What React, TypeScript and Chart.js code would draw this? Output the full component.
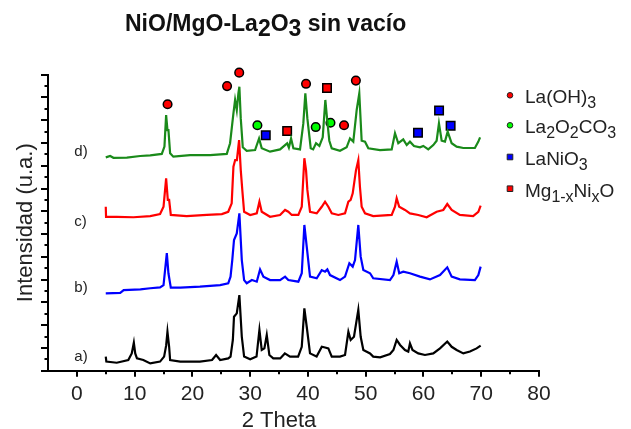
import { useEffect, useRef } from 'react';
import { Chart, registerables } from 'chart.js';

Chart.register(...registerables);

const FONT = '"Liberation Sans", Arial, Helvetica, sans-serif';

const chartTitle = 'NiO/MgO-La{2}O{3} sin vacío';
const xAxisTitle = '2 Theta';
const yAxisTitle = 'Intensidad (u.a.)';
const xTickValues = [0, 10, 20, 30, 40, 50, 60, 70, 80];
const xMinorTicks = [5, 15, 25, 35, 45, 55, 65, 75];
const yMinorTicks = [0.5, 1.5, 2.5, 3.5, 4.5, 5.5, 6.5, 7.5, 8.5, 9.5, 10.5, 11.5, 12.5];

const sampleNames = ['a)', 'b)', 'c)', 'd)'];
const sampleColors = ['#000000', '#0000ff', '#ff0000', '#1a8a1a'];
const sampleLabelTheta = [-0.45, -0.45, -0.45, -0.45];
const sampleLabelLevel = [0.6, 3.63, 6.53, 9.6];

// (2θ, intensity) pairs
const patternA: [number, number][] = [
  [5.0, 0.62], [5.1, 0.4], [6.9, 0.35], [8.9, 0.47], [9.5, 0.76], [9.86, 1.23], [10.1, 0.76], [10.4, 0.54],
  [11.5, 0.47], [12.7, 0.32], [14.4, 0.4], [15.1, 0.62], [15.45, 1.1], [15.68, 1.71], [15.97, 1.05], [16.14, 0.47],
  [17.9, 0.4], [21.3, 0.4], [23.4, 0.47], [24.1, 0.69], [24.8, 0.47], [26.2, 0.54], [26.6, 0.62], [27.0, 1.35],
  [27.2, 2.37], [27.68, 2.52], [28.13, 3.32], [28.55, 1.49], [28.95, 0.62], [30.0, 0.5], [31.1, 0.62], [31.6, 1.79],
  [32.0, 0.91], [32.46, 0.98], [32.87, 1.57], [33.32, 0.69], [34.0, 0.54], [35.2, 0.54], [36.0, 0.76], [36.9, 0.62],
  [38.3, 0.62], [38.93, 1.05], [39.38, 2.74], [39.79, 1.93], [40.36, 0.76], [41.5, 0.62], [42.4, 1.05], [42.96, 1.02],
  [43.53, 0.98], [44.12, 0.62], [45.55, 0.62], [46.42, 0.69], [47.0, 1.71], [47.4, 1.35], [47.97, 1.49], [48.72, 2.67],
  [49.13, 1.49], [49.59, 0.91], [50.75, 0.76], [51.3, 0.62], [52.5, 0.59], [54.2, 0.73], [54.8, 0.91], [55.36, 1.35],
  [55.95, 1.13], [56.8, 0.91], [57.37, 0.84], [57.66, 1.2], [58.1, 0.91], [59.1, 0.76], [60.26, 0.69], [61.7, 0.76],
  [62.86, 0.98], [64.12, 1.28], [64.88, 1.05], [65.74, 0.91], [66.9, 0.76], [68.05, 0.84], [69.2, 0.98], [69.9, 1.1],
];

const patternB: [number, number][] = [
  [5.0, 3.4], [7.5, 3.42], [8.1, 3.54], [11.0, 3.57], [12.7, 3.62], [14.4, 3.66], [15.0, 3.76], [15.57, 5.16],
  [15.85, 4.28], [16.26, 3.65], [17.9, 3.65], [21.3, 3.69], [24.8, 3.76], [26.2, 3.84], [26.6, 4.13], [26.9, 4.86],
  [27.2, 5.74], [27.68, 6.03], [28.13, 6.91], [28.55, 4.86], [28.95, 3.98], [29.4, 3.84], [30.3, 3.98], [31.14, 3.91],
  [31.71, 4.45], [32.29, 4.13], [33.44, 3.98], [35.17, 3.98], [36.04, 4.13], [36.6, 3.98], [38.34, 3.91], [38.93, 4.28],
  [39.38, 6.4], [39.79, 5.45], [40.36, 4.13], [41.52, 4.06], [42.39, 4.42], [42.96, 4.35], [43.36, 4.45], [43.82, 4.2],
  [45.55, 3.98], [46.42, 4.13], [47.17, 4.72], [47.75, 4.57], [48.15, 4.86], [48.72, 6.4], [49.13, 5.01], [49.59, 4.42],
  [50.75, 4.28], [51.3, 4.06], [54.2, 3.98], [54.8, 4.2], [55.36, 4.79], [55.8, 4.28], [56.5, 4.35], [57.66, 4.28],
  [59.4, 4.13], [61.12, 4.01], [62.86, 4.2], [64.12, 4.54], [64.88, 4.13], [66.3, 4.01], [68.9, 3.98], [69.5, 4.2],
  [69.9, 4.57],
];

const patternC: [number, number][] = [
  [5.0, 7.2], [5.05, 6.76], [6.9, 6.76], [9.8, 6.74], [12.7, 6.79], [14.4, 6.88], [15.0, 7.2], [15.45, 8.45],
  [15.74, 7.5], [15.97, 7.5], [16.26, 6.84], [19.0, 6.79], [22.5, 6.84], [25.1, 6.88], [26.2, 6.98], [26.8, 7.35],
  [27.1, 8.96], [27.4, 9.25], [27.7, 9.25], [28.08, 10.13], [28.37, 8.81], [28.66, 7.86], [28.95, 6.98], [30.0, 6.84],
  [31.14, 6.91], [31.6, 7.42], [32.0, 6.98], [33.44, 6.76], [35.17, 6.84], [36.04, 7.06], [36.6, 6.98], [37.2, 6.84],
  [38.34, 6.84], [38.93, 7.2], [39.38, 9.33], [39.67, 8.81], [39.9, 7.94], [40.36, 6.98], [41.52, 6.91], [42.39, 7.2],
  [42.96, 7.42], [43.53, 7.2], [44.12, 6.91], [45.26, 6.84], [46.42, 6.91], [47.0, 7.42], [47.4, 7.5], [47.75, 7.79],
  [48.32, 8.81], [48.72, 9.25], [49.0, 8.08], [49.3, 7.2], [49.88, 6.91], [51.3, 6.79], [54.5, 6.84], [55.07, 7.2],
  [55.36, 7.57], [55.8, 7.2], [56.8, 7.06], [57.66, 6.91], [59.1, 6.84], [60.55, 6.74], [62.28, 6.98], [63.43, 7.06],
  [64.12, 7.32], [64.88, 7.06], [66.3, 6.84], [68.6, 6.79], [69.5, 6.98], [69.9, 7.25],
];

const patternD: [number, number][] = [
  [5.0, 9.37], [5.76, 9.43], [6.33, 9.35], [8.65, 9.36], [10.95, 9.43], [12.7, 9.46], [14.7, 9.52], [15.16, 9.84],
  [15.45, 11.23], [15.68, 10.57], [15.85, 10.57], [16.14, 9.55], [16.7, 9.4], [19.6, 9.47], [23.06, 9.47], [25.95, 9.52],
  [26.52, 9.99], [27.1, 11.3], [27.39, 11.89], [27.68, 11.45], [27.96, 12.18], [28.13, 12.47], [28.37, 11.08], [28.72, 9.81],
  [29.4, 9.66], [30.85, 9.69], [31.54, 10.2], [32.0, 9.77], [33.44, 9.62], [35.17, 9.72], [36.04, 9.91], [36.4, 9.99],
  [36.7, 9.8], [37.08, 10.2], [37.48, 9.77], [38.63, 9.72], [39.2, 10.86], [39.55, 12.18], [39.9, 11.08], [40.48, 9.77],
  [40.9, 9.72], [41.4, 9.99], [41.98, 9.87], [42.56, 10.25], [43.01, 11.89], [43.36, 10.94], [43.7, 10.1], [44.12, 9.77],
  [45.55, 9.66], [46.7, 9.81], [47.28, 10.2], [47.85, 10.06], [48.44, 11.45], [48.89, 12.18], [49.3, 10.1], [49.88, 10.06],
  [50.45, 9.77], [52.47, 9.69], [54.5, 9.72], [55.07, 10.43], [55.64, 9.99], [56.5, 10.16], [57.1, 9.91], [57.66, 10.06],
  [58.36, 9.87], [59.4, 9.81], [59.97, 9.87], [60.83, 9.72], [61.7, 9.91], [62.28, 10.1], [62.68, 10.86], [63.15, 10.1],
  [63.72, 10.06], [64.19, 10.5], [64.88, 9.99], [65.74, 9.84], [66.9, 9.78], [68.9, 9.78], [69.5, 10.06], [69.8, 10.25],
];

const phaseNames = ['La(OH){3}', 'La{2}O{2}CO{3}', 'LaNiO{3}', 'Mg{1-x}Ni{x}O'];
const phaseFill = ['#ff0000', '#00ff00', '#0000ff', '#ff0000'];
const phaseShape = ['circle', 'circle', 'rect', 'rect'];
const peaksLaOH3: [number, number][] = [[15.7, 11.7], [26.0, 12.5], [28.1, 13.09], [39.67, 12.6], [46.25, 10.78], [48.3, 12.74]];
const peaksLa2O2CO3: [number, number][] = [[31.25, 10.78], [41.35, 10.7], [43.9, 10.89]];
const peaksLaNiO3: [number, number][] = [[32.7, 10.34], [59.05, 10.45], [62.7, 11.43], [64.7, 10.76]];
const peaksMgNiO: [number, number][] = [[36.4, 10.53], [43.3, 12.42]];

const patterns = [patternA, patternB, patternC, patternD];
const phasePeaks = [peaksLaOH3, peaksLa2O2CO3, peaksLaNiO3, peaksMgNiO];

function parseRich(s: string) {
  const parts: { t: string; sub: boolean }[] = [];
  const re = /\{([^}]*)\}/g;
  let last = 0;
  let m: RegExpExecArray | null;
  while ((m = re.exec(s))) {
    if (m.index > last) parts.push({ t: s.slice(last, m.index), sub: false });
    parts.push({ t: m[1], sub: true });
    last = re.lastIndex;
  }
  if (last < s.length) parts.push({ t: s.slice(last), sub: false });
  return parts;
}

function drawRich(ctx: CanvasRenderingContext2D, s: string, x: number, y: number, size: number, subSize: number, drop: number, weight: string, color: string) {
  ctx.save();
  ctx.fillStyle = color;
  ctx.textAlign = 'left';
  ctx.textBaseline = 'alphabetic';
  let cx = x;
  for (const p of parseRich(s)) {
    const fs = p.sub ? subSize : size;
    ctx.font = `${weight} ${fs}px ${FONT}`;
    ctx.fillText(p.t, cx, y + (p.sub ? drop : 0));
    cx += ctx.measureText(p.t).width;
  }
  ctx.restore();
}

const overlayPlugin = {
  id: 'overlay',
  afterDraw(chart: any) {
    const ctx: CanvasRenderingContext2D = chart.ctx;
    const xs = chart.scales.x;
    const ys = chart.scales.y;
    ctx.save();
    ctx.strokeStyle = '#000';
    ctx.lineWidth = 2;
    ctx.beginPath();
    for (const v of xMinorTicks) {
      const px = Math.round(xs.getPixelForValue(v));
      ctx.moveTo(px, ys.bottom);
      ctx.lineTo(px, ys.bottom + 3.5);
    }
    for (const v of yMinorTicks) {
      const py = Math.round(ys.getPixelForValue(v));
      ctx.moveTo(xs.left, py);
      ctx.lineTo(xs.left - 3.5, py);
    }
    ctx.stroke();
    ctx.restore();

    // title
    drawRich(ctx, chartTitle, 125, 30.5, 23, 23, 5.5, 'bold', '#111');

    // legend
    const lx = 510;
    const tx = 525;
    const baselines = [103.3, 133.3, 165, 196.7];
    phaseNames.forEach((name, i) => {
      const by = baselines[i];
      const my = by - 8;
      ctx.save();
      ctx.fillStyle = phaseFill[i];
      ctx.strokeStyle = '#222';
      ctx.lineWidth = 1;
      ctx.beginPath();
      if (phaseShape[i] === 'circle') ctx.arc(lx, my, 2.8, 0, Math.PI * 2);
      else ctx.rect(lx - 2.8, my - 2.8, 5.6, 5.6);
      ctx.fill();
      ctx.stroke();
      ctx.restore();
      drawRich(ctx, name, tx, by, 19, 16, 5, 'normal', '#222');
    });

    // sample labels
    ctx.save();
    ctx.fillStyle = '#222';
    ctx.font = `15px ${FONT}`;
    ctx.textAlign = 'left';
    ctx.textBaseline = 'middle';
    sampleNames.forEach((n, i) => {
      ctx.fillText(n, xs.getPixelForValue(sampleLabelTheta[i]), ys.getPixelForValue(sampleLabelLevel[i]));
    });
    ctx.restore();

    // x title
    ctx.save();
    ctx.fillStyle = '#222';
    ctx.font = `22px ${FONT}`;
    ctx.textAlign = 'center';
    ctx.textBaseline = 'alphabetic';
    ctx.fillText(xAxisTitle, 279, 426.5);
    ctx.restore();
  },
};

export default function App() {
  const ref = useRef<HTMLCanvasElement>(null);
  useEffect(() => {
    const datasets: any[] = patterns.map((p, i) => ({
      label: sampleNames[i],
      data: p.map(([x, y]) => ({ x, y })),
      showLine: true,
      borderColor: sampleColors[i],
      borderWidth: 2.2,
      pointRadius: 0,
      fill: false,
      tension: 0,
    }));
    phasePeaks.forEach((pk, i) => {
      datasets.push({
        label: phaseNames[i],
        data: pk.map(([x, y]) => ({ x, y })),
        showLine: false,
        pointStyle: phaseShape[i],
        pointRadius: phaseShape[i] === 'circle' ? 4.3 : 6,
        backgroundColor: phaseFill[i],
        borderColor: '#000',
        borderWidth: 1.5,
        clip: false,
      });
    });
    const chart = new Chart(ref.current!, {
      type: 'scatter',
      data: { datasets },
      options: {
        responsive: false,
        animation: false,
        devicePixelRatio: 1,
        events: [],
        layout: { padding: { top: 74.7, right: 92, left: 0, bottom: 0 } },
        plugins: { legend: { display: false }, tooltip: { enabled: false }, title: { display: false } },
        scales: {
          x: {
            type: 'linear',
            min: -5,
            max: 80,
            afterBuildTicks: (scale: any) => {
              scale.ticks = xTickValues.map((v) => ({ value: v }));
            },
            afterFit: (scale: any) => {
              scale.height = 58.3;
            },
            grid: { drawOnChartArea: false, drawTicks: true, tickLength: 6, tickColor: '#000', lineWidth: 2 },
            border: { display: true, color: '#000', width: 2 },
            ticks: { color: '#222', font: { family: FONT, size: 21 }, padding: 5, maxRotation: 0, autoSkip: false },
          },
          y: {
            type: 'linear',
            min: 0,
            max: 13,
            afterFit: (scale: any) => {
              scale.width = 48;
            },
            grid: { drawOnChartArea: false, drawTicks: true, tickLength: 7, tickColor: '#000', lineWidth: 2 },
            border: { display: true, color: '#000', width: 2 },
            ticks: { display: false, stepSize: 1 },
            title: { display: true, text: yAxisTitle, color: '#222', font: { family: FONT, size: 22 }, padding: { top: 12.5, bottom: 0 } },
          },
        },
      },
      plugins: [overlayPlugin],
    });
    return () => chart.destroy();
  }, []);
  return (
    <div style={{ position: 'fixed', left: 0, top: 0, width: 631, height: 429, background: '#fff' }}>
      <canvas ref={ref} width={631} height={429} style={{ display: 'block', width: 631, height: 429 }} />
    </div>
  );
}
